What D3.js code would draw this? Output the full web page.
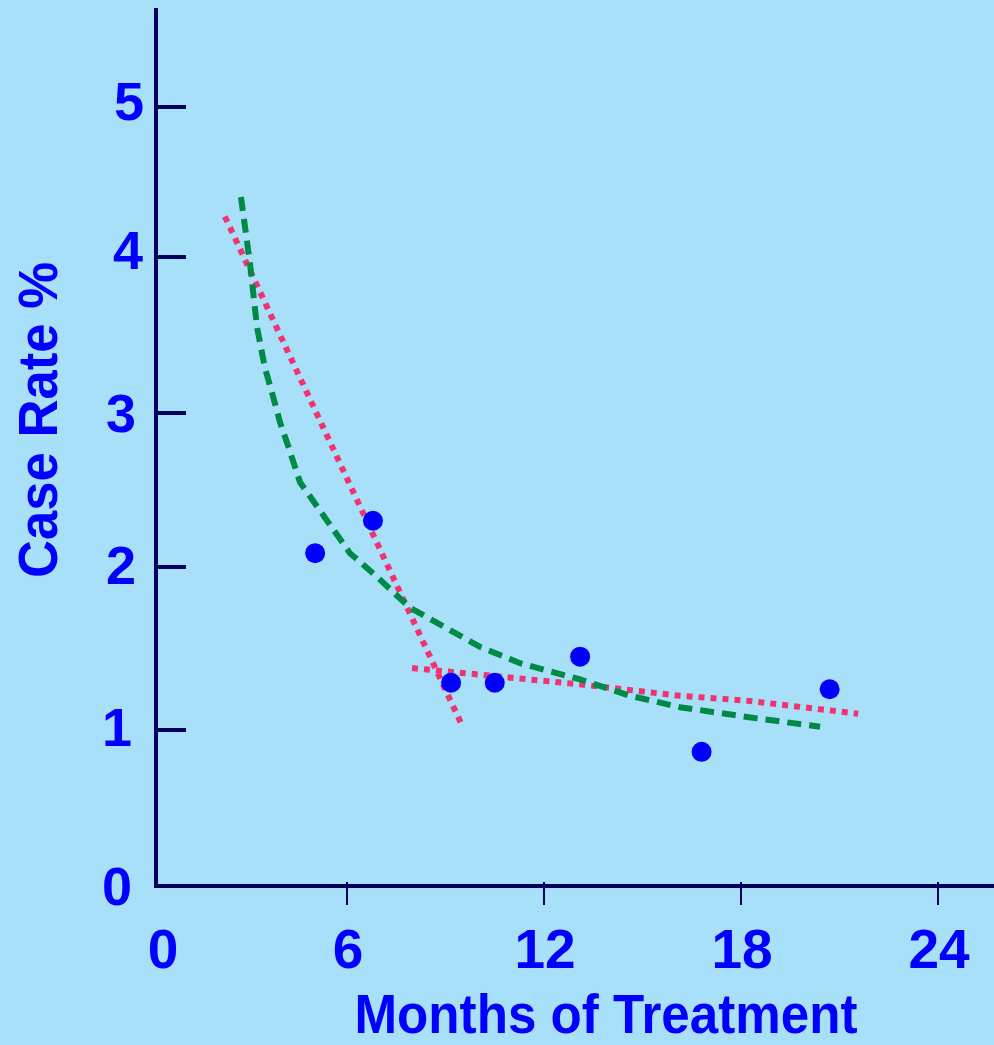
<!DOCTYPE html>
<html>
<head>
<meta charset="utf-8">
<script src="https://cdn.jsdelivr.net/npm/d3@7"></script>
<style>
  html, body { margin: 0; padding: 0; background: #a8e0f9; }
  svg { display: block; }
  text { font-family: "Liberation Sans", Arial, sans-serif; font-weight: bold; fill: #0000ff; }
</style>
</head>
<body>
<div id="chart"></div>
<script>

// observed points (months, case rate %)
var months = [5.03, 6.79, 9.17, 10.5, 13.1, 16.8, 20.7];
var rates  = [2.09, 2.30, 1.29, 1.29, 1.45, 0.86, 1.25];

// green dashed fit
var fitMonths = [2.77, 3.05, 3.26, 3.50, 3.69, 3.96, 4.20, 4.57, 5.33, 6.09, 6.91, 7.92, 10.05, 11.27, 13.1, 14.62, 16.14, 18.18, 20.41];
var fitRates  = [4.40, 3.95, 3.55, 3.29, 3.15, 2.94, 2.79, 2.55, 2.32, 2.09, 1.94, 1.75, 1.51, 1.41, 1.31, 1.21, 1.14, 1.08, 1.02];

// pink dotted: early steep segment
var earlyMonths = [2.28, 9.5];
var earlyRates  = [4.27, 1.03];

// pink dotted: late flat segment
var lateMonths = [7.98, 13.1, 16.14, 18.18, 21.57];
var lateRates  = [1.38, 1.28, 1.21, 1.18, 1.10];

var xTicks = [0, 6, 12, 18, 24];
var yTicks = [0, 1, 2, 3, 4, 5];

var width = 994, height = 1045;

var svg = d3.select("#chart")
    .append("svg")
    .attr("width", width)
    .attr("height", height);

svg.append("rect")
    .attr("width", width)
    .attr("height", height)
    .attr("fill", "#a8e0f9");

var x = d3.scaleLinear().domain([0, 24]).range([150, 938]);
// the original ticks are not quite evenly spaced
var y = d3.scaleLinear().domain(yTicks).range([886, 730, 567, 413, 257, 107]);

var axisColor = "#00005e";
var yAxisX = 156;

// hand placed label centres in the original
var yLabelX = {0: 117, 1: 117, 2: 121, 3: 121, 4: 128, 5: 129};
var yLabelDy = {0: 19, 1: 16, 2: 17, 3: 19, 4: 12, 5: 13};

svg.append("line")
    .attr("x1", yAxisX).attr("x2", yAxisX)
    .attr("y1", 8).attr("y2", y(0) + 2)
    .attr("stroke", axisColor)
    .attr("stroke-width", 4);

svg.append("line")
    .attr("x1", yAxisX - 2).attr("x2", width)
    .attr("y1", y(0)).attr("y2", y(0))
    .attr("stroke", axisColor)
    .attr("stroke-width", 4);

svg.selectAll(".ytick")
    .data(yTicks.filter(function(d){ return d > 0; }))
    .enter()
    .append("line")
    .attr("class", "ytick")
    .attr("x1", yAxisX).attr("x2", 186)
    .attr("y1", function(d){ return y(d); })
    .attr("y2", function(d){ return y(d); })
    .attr("stroke", axisColor)
    .attr("stroke-width", 4);

svg.selectAll(".ylabel")
    .data(yTicks)
    .enter()
    .append("text")
    .attr("class", "ylabel")
    .attr("x", function(d){ return yLabelX[d]; })
    .attr("y", function(d){ return y(d) + yLabelDy[d]; })
    .attr("text-anchor", "middle")
    .attr("font-size", "54px")
    .text(function(d){ return d; });

svg.selectAll(".xtick")
    .data(xTicks.filter(function(d){ return d > 0; }))
    .enter()
    .append("line")
    .attr("class", "xtick")
    .attr("x1", function(d){ return x(d); })
    .attr("x2", function(d){ return x(d); })
    .attr("y1", y(0) - 4).attr("y2", 905)
    .attr("stroke", axisColor)
    .attr("stroke-width", 2);

svg.selectAll(".xlabel")
    .data(xTicks)
    .enter()
    .append("text")
    .attr("class", "xlabel")
    .attr("x", function(d){ return d == 0 ? 163 : x(d) + 1; })
    .attr("y", 968)
    .attr("text-anchor", "middle")
    .attr("font-size", "55px")
    .text(function(d){ return d; });

// axis titles
svg.append("text")
    .attr("x", 606)
    .attr("y", 1033)
    .attr("text-anchor", "middle")
    .attr("font-size", "56px")
    .attr("textLength", 503)
    .attr("lengthAdjust", "spacingAndGlyphs")
    .text("Months of Treatment");

svg.append("text")
    .attr("transform", "translate(57,420) rotate(-90)")
    .attr("text-anchor", "middle")
    .attr("font-size", "55px")
    .attr("textLength", 316)
    .attr("lengthAdjust", "spacingAndGlyphs")
    .text("Case Rate %");

function toPts(ms, rs) {
    return ms.map(function(m, i){ return [m, rs[i]]; });
}

var line = d3.line()
    .x(function(d){ return x(d[0]); })
    .y(function(d){ return y(d[1]); });

[toPts(earlyMonths, earlyRates), toPts(lateMonths, lateRates)].forEach(function(pts){
    svg.append("path")
        .attr("d", line(pts))
        .attr("fill", "none")
        .attr("stroke", "#f03471")
        .attr("stroke-width", 6)
        .attr("stroke-dasharray", "6,6");
});

svg.append("path")
    .attr("d", line(toPts(fitMonths, fitRates)))
    .attr("fill", "none")
    .attr("stroke", "#008a48")
    .attr("stroke-width", 6)
    .attr("stroke-dasharray", "14,8");

svg.selectAll("circle")
    .data(toPts(months, rates))
    .enter()
    .append("circle")
    .attr("cx", function(d){ return x(d[0]); })
    .attr("cy", function(d){ return y(d[1]); })
    .attr("r", 10)
    .attr("fill", "#0000ff");

</script>
</body>
</html>
